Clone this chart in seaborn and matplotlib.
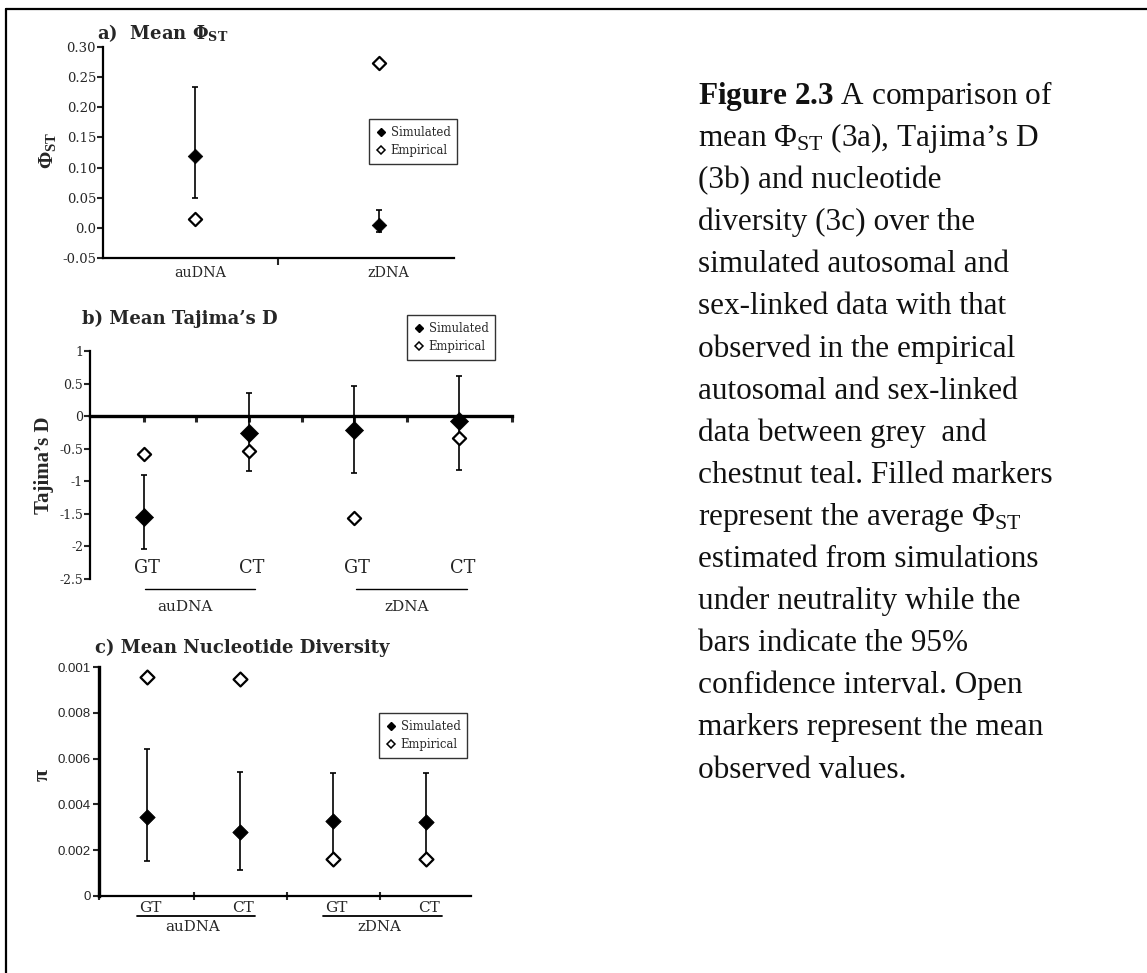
import numpy as np
import pandas as pd
import matplotlib
matplotlib.use("Agg")
import matplotlib.pyplot as plt
import seaborn as sns
from matplotlib.lines import Line2D

# ---------------- data ----------------
# a) Mean PhiST
phi_groups = ["auDNA", "zDNA"]
phi_sim = [0.120, 0.005]
phi_sim_lo = [0.050, -0.007]
phi_sim_hi = [0.233, 0.029]
phi_emp = [0.015, 0.273]
phi_ticks = [-0.05, 0.0, 0.05, 0.10, 0.15, 0.20, 0.25, 0.30]
phi_ticklabels = ["-0.05", "0.0", "0.05", "0.10", "0.15", "0.20", "0.25", "0.30"]

# b) Mean Tajima's D
pops = ["GT", "CT", "GT", "CT"]
dna_groups = ["auDNA", "zDNA"]
taj_sim = [-1.55, -0.26, -0.21, -0.08]
taj_lo = [-2.04, -0.84, -0.88, -0.83]
taj_hi = [-0.91, 0.36, 0.46, 0.61]
taj_emp = [-0.58, -0.53, -1.56, -0.33]
taj_ticks = [1, 0.5, 0, -0.5, -1, -1.5, -2, -2.5]
taj_ticklabels = ["1", "0.5", "0", "-0.5", "-1", "-1.5", "-2", "-2.5"]

# c) Mean nucleotide diversity
pi_sim = [0.00343, 0.00280, 0.00328, 0.00325]
pi_lo = [0.00151, 0.00115, 0.00170, 0.00170]
pi_hi = [0.00640, 0.00542, 0.00535, 0.00535]
pi_emp = [0.00956, 0.00947, 0.00163, 0.00163]
pi_ticks = [0, 0.002, 0.004, 0.006, 0.008, 0.010]
pi_ticklabels = ["0", "0.002", "0.004", "0.006", "0.008", "0.001"]

caption_lines = [
    r"$\mathbf{Figure\ 2.3}$ A comparison of",
    r"mean Φ$_{\mathrm{ST}}$ (3a), Tajima’s D",
    "(3b) and nucleotide",
    "diversity (3c) over the",
    "simulated autosomal and",
    "sex-linked data with that",
    "observed in the empirical",
    "autosomal and sex-linked",
    "data between grey  and",
    "chestnut teal. Filled markers",
    r"represent the average Φ$_{\mathrm{ST}}$",
    "estimated from simulations",
    "under neutrality while the",
    "bars indicate the 95%",
    "confidence interval. Open",
    "markers represent the mean",
    "observed values.",
]

# ---------------- style ----------------
sns.set_theme(style="white")
SERIF = "Liberation Serif"
PSERIF = "DejaVu Serif"
plt.rcParams["font.family"] = [SERIF, "DejaVu Serif"]
plt.rcParams["mathtext.fontset"] = "custom"
plt.rcParams["mathtext.rm"] = SERIF
plt.rcParams["mathtext.it"] = SERIF + ":italic"
plt.rcParams["mathtext.bf"] = SERIF + ":bold"
plt.rcParams["mathtext.sf"] = PSERIF + ":bold"
plt.rcParams["axes.linewidth"] = 1.5

W, H = 1147, 973
fig = plt.figure(figsize=(W / 100, H / 100), dpi=100)
fig.patch.set_facecolor("white")


def px_axes(left, top, right, bottom):
    return fig.add_axes([left / W, 1 - bottom / H, (right - left) / W, (bottom - top) / H])


def fx(px):
    return px / W


def fy(py):
    return 1 - py / H


def draw_points(ax, x, sim, lo, hi, emp, s_sim, s_emp):
    sim = np.asarray(sim, float)
    lo = np.asarray(lo, float)
    hi = np.asarray(hi, float)
    ax.errorbar(x, sim, yerr=[sim - lo, hi - sim], fmt="none", ecolor="black",
                elinewidth=1.2, capsize=2.5, capthick=1.2, zorder=2)
    sns.scatterplot(x=x, y=sim, marker="D", s=s_sim, color="black",
                    edgecolor="black", linewidth=0.5, label="Simulated",
                    ax=ax, zorder=3, legend=False)
    sns.scatterplot(x=x, y=list(emp), marker="D", s=s_emp, color="white",
                    edgecolor="black", linewidth=1.6, label="Empirical",
                    ax=ax, zorder=4, legend=False)


def add_legend(ax, left_px, top_px, fs=8.4):
    handles = [
        Line2D([], [], marker="D", ls="none", color="black", markersize=4.5),
        Line2D([], [], marker="D", ls="none", markerfacecolor="white",
               markeredgecolor="black", markeredgewidth=1.1, markersize=4.5),
    ]
    leg = ax.legend(handles, ["Simulated", "Empirical"], loc="upper left",
                    bbox_to_anchor=(fx(left_px), fy(top_px)),
                    bbox_transform=fig.transFigure, frameon=True, fancybox=False,
                    framealpha=1, edgecolor="#333333",
                    prop={"family": PSERIF, "size": fs},
                    handlelength=0.8, handletextpad=0.45, labelspacing=0.45,
                    borderpad=0.6, borderaxespad=0)
    leg.get_frame().set_linewidth(1.0)
    return leg


def style_ticklabels(ax, family, size):
    for t in ax.get_yticklabels():
        t.set_fontfamily(family)
        t.set_fontsize(size)


# ---------------- panel a ----------------
axa = px_axes(103, 47, 454, 258)
xa = np.arange(len(phi_groups))
draw_points(axa, xa, phi_sim, phi_sim_lo, phi_sim_hi, phi_emp, 55, 45)
axa.set_xlim(-0.5, 1.41)
axa.set_ylim(-0.05, 0.30)
axa.set_yticks(phi_ticks)
axa.set_yticklabels(phi_ticklabels)
style_ticklabels(axa, PSERIF, 9.5)
axa.set_xticks([0.45])
axa.set_xticklabels([""])
for i, g in enumerate(phi_groups):
    axa.text(i + 0.03 + 0.02 * i, -0.064, g, ha="center", va="top", fontsize=10.3,
             fontfamily=PSERIF)
axa.tick_params(axis="y", direction="out", length=4, width=1.5, left=True, pad=1)
axa.tick_params(axis="x", direction="out", length=5, width=1.5, bottom=True)
for s in ["top", "right"]:
    axa.spines[s].set_visible(False)
for s in ["left", "bottom"]:
    axa.spines[s].set_color("black")
    axa.spines[s].set_linewidth(1.6)
axa.set_xlabel("")
axa.set_ylabel("")
add_legend(axa, 369, 119)
fig.text(fx(97), fy(33), r"a)  Mean Φ$_{\mathsf{ST}}$", fontsize=13,
         fontweight="bold", fontfamily=PSERIF, ha="left", va="center")
fig.text(fx(48), fy(150), r"Φ$_{\mathbf{ST}}$", fontsize=15, fontweight="bold",
         rotation=90, ha="center", va="center")

# ---------------- panel b ----------------
axb = px_axes(90, 351, 512, 579)
xb = np.arange(len(pops))
draw_points(axb, xb, taj_sim, taj_lo, taj_hi, taj_emp, 85, 45)
axb.set_xlim(-0.51, 3.5)
axb.set_ylim(-2.5, 1)
axb.set_yticks(taj_ticks)
axb.set_yticklabels(taj_ticklabels)
style_ticklabels(axb, PSERIF, 9.0)
axb.spines["bottom"].set_position(("data", 0))
axb.set_xticks(np.arange(0, 3.51, 0.5))
axb.set_xticklabels([""] * 8)
axb.tick_params(axis="x", direction="out", length=4, width=2.2, bottom=True)
axb.tick_params(axis="y", direction="out", length=4, width=1.5, left=True, pad=1)
for s in ["top", "right"]:
    axb.spines[s].set_visible(False)
axb.spines["left"].set_color("black")
axb.spines["left"].set_linewidth(1.6)
axb.spines["bottom"].set_color("black")
axb.spines["bottom"].set_linewidth(2.4)
axb.set_xlabel("")
axb.set_ylabel("")
for i, p in enumerate(pops):
    axb.text(i + 0.03, -2.33, p, ha="center", va="center", fontsize=12.8,
             fontfamily=PSERIF)
for g, (a0, a1) in zip(dna_groups, [(0.01, 1.06), (2.02, 3.07)]):
    axb.add_line(Line2D([a0, a1], [-2.66, -2.66], color="black", lw=1.0, clip_on=False))
    axb.text((a0 + a1) / 2 - 0.14 if g == "auDNA" else (a0 + a1) / 2 - 0.05, -2.93, g,
             ha="center", va="center", fontsize=11, fontfamily=PSERIF)
add_legend(axb, 407, 315)
fig.text(fx(82), fy(319), "b) Mean Tajima’s D", fontsize=13, fontweight="bold",
         fontfamily=PSERIF, ha="left", va="center")
fig.text(fx(44), fy(465), "Tajima’s D", fontsize=15, fontweight="bold",
         rotation=90, ha="center", va="center")

# ---------------- panel c ----------------
axc = px_axes(99, 667, 471, 896)
xc = np.arange(len(pops))
draw_points(axc, xc, pi_sim, pi_lo, pi_hi, pi_emp, 62, 50)
axc.set_xlim(-0.52, 3.48)
axc.set_ylim(0, 0.010)
axc.set_yticks(pi_ticks)
axc.set_yticklabels(pi_ticklabels)
style_ticklabels(axc, "Liberation Sans", 9.5)
axc.set_xticks([-0.52, 0.5, 1.5, 2.5])
axc.set_xticklabels([""] * 4)
axc.tick_params(axis="x", direction="inout", length=6, width=1.5, bottom=True)
axc.tick_params(axis="y", direction="out", length=4, width=1.5, left=True, pad=2)
for s in ["top", "right"]:
    axc.spines[s].set_visible(False)
axc.spines["left"].set_color("black")
axc.spines["left"].set_linewidth(2.4)
axc.spines["bottom"].set_color("black")
axc.spines["bottom"].set_linewidth(1.6)
axc.set_xlabel("")
axc.set_ylabel("")
for i, p in enumerate(pops):
    axc.text(i + 0.03, -0.00052, p, ha="center", va="center", fontsize=11,
             fontfamily=PSERIF)
for g, (a0, a1) in zip(dna_groups, [(-0.11, 1.16), (1.89, 3.17)]):
    axc.add_line(Line2D([a0, a1], [-0.00087, -0.00087], color="black", lw=1.3,
                        clip_on=False))
    axc.text((a0 + a1) / 2 - 0.04, -0.00136, g, ha="center", va="center", fontsize=10.8,
             fontfamily=PSERIF)
add_legend(axc, 379, 713)
fig.text(fx(95), fy(648), "c) Mean Nucleotide Diversity", fontsize=13,
         fontweight="bold", fontfamily=PSERIF, ha="left", va="center")
fig.text(fx(43), fy(775), "π", fontsize=16, fontweight="bold", rotation=90,
         ha="center", va="center")

# ---------------- caption ----------------
for k, line in enumerate(caption_lines):
    fig.text(fx(698), fy(104 + 42.1 * k), line, fontsize=22.5, ha="left",
             va="baseline", color="#111111")

# ---------------- outer frame ----------------
fig.add_artist(Line2D([fx(6), 1.0], [fy(9), fy(9)], color="black", lw=1.6))
fig.add_artist(Line2D([fx(6), fx(6)], [fy(9), 0.0], color="black", lw=1.6))

fig.savefig("out.png", dpi=100, facecolor="white")
